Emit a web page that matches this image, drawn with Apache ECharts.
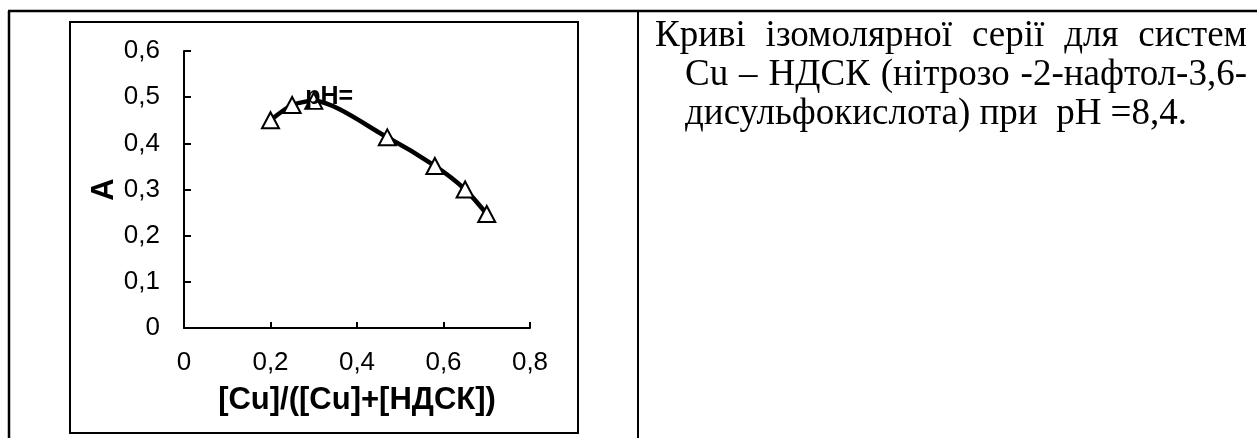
<!DOCTYPE html>
<html>
<head>
<meta charset="utf-8">
<script src="https://cdn.jsdelivr.net/npm/echarts@6/dist/echarts.min.js"></script>
<style>
  html, body { margin: 0; padding: 0; background: #fff; }
  #wrap { position: relative; width: 1257px; height: 438px; overflow: hidden; }
  #chart { position: absolute; left: 0; top: 0; width: 1257px; height: 438px; }
  #caption { position: absolute; left: 655px; top: 14px; width: 592px;
    font-family: "Liberation Serif", "Times New Roman", serif; font-size: 37px;
    line-height: 39px; color: #000; }
  #caption div { white-space: nowrap; }
  #caption .j { text-align: justify; text-align-last: justify; }
  #caption .ind { margin-left: 30px; }
</style>
</head>
<body>
<div id="wrap">
  <div id="chart"></div>
  <div id="caption"></div>
</div>
<script>
// ---- data ----
const xValues = [0.2, 0.25, 0.3, 0.47, 0.58, 0.65, 0.7];
const aValues = [0.45, 0.483, 0.492, 0.413, 0.351, 0.3, 0.247];
const xTicks = [0, 0.2, 0.4, 0.6, 0.8];
const yTicks = [0, 0.1, 0.2, 0.3, 0.4, 0.5, 0.6];
const xTitle = '[Cu]/([Cu]+[НДСК])';
const yTitle = 'A';
const pointLabel = 'pH=';
const pointLabelIndex = 2;
const captionLines = [
  'Криві ізомолярної серії для систем',
  'Cu – НДСК (нітрозо -2-нафтол-3,6-',
  'дисульфокислота) при\u00a0 pH =8,4.'
];

// caption text
const cap = document.getElementById('caption');
captionLines.forEach((t, i) => {
  const d = document.createElement('div');
  d.textContent = t;
  if (i < captionLines.length - 1) d.classList.add('j');
  if (i > 0) d.classList.add('ind');
  cap.appendChild(d);
});

const fmt = v => String(+v.toFixed(2)).replace('.', ',');
const sans = '"Liberation Sans", Arial, sans-serif';

const seriesData = xValues.map((x, i) => {
  const item = { value: [x, aValues[i]] };
  if (i === pointLabelIndex) {
    item.label = {
      show: true, formatter: pointLabel, position: [1, 5],
      align: 'left', verticalAlign: 'middle',
      fontFamily: sans, fontWeight: 'bold', fontSize: 25, color: '#000'
    };
  }
  return item;
});

const chart = echarts.init(document.getElementById('chart'), null, { renderer: 'canvas' });
chart.setOption({
  animation: false,
  backgroundColor: '#fff',
  grid: { left: 184, top: 51, width: 346, height: 277, containLabel: false },
  xAxis: {
    type: 'value',
    min: xTicks[0], max: xTicks[xTicks.length - 1],
    interval: xTicks[1] - xTicks[0],
    name: xTitle, nameLocation: 'middle', nameGap: 57,
    nameTextStyle: { fontFamily: sans, fontWeight: 'bold', fontSize: 31, color: '#000' },
    axisLine: { show: true, onZero: false, lineStyle: { color: '#000', width: 2 } },
    axisTick: { show: true, inside: true, length: 6, lineStyle: { color: '#000', width: 2 } },
    axisLabel: { formatter: fmt, margin: 22, fontFamily: sans, fontSize: 26, color: '#000' },
    splitLine: { show: false }
  },
  yAxis: {
    type: 'value',
    min: yTicks[0], max: yTicks[yTicks.length - 1],
    interval: yTicks[1] - yTicks[0],
    name: yTitle, nameLocation: 'middle', nameGap: 64, nameRotate: 90,
    nameTextStyle: { fontFamily: sans, fontWeight: 'bold', fontSize: 31, color: '#000' },
    axisLine: { show: true, onZero: false, lineStyle: { color: '#000', width: 2 } },
    axisTick: { show: true, inside: true, length: 7, lineStyle: { color: '#000', width: 2 } },
    axisLabel: { formatter: fmt, margin: 24, fontFamily: sans, fontSize: 26, color: '#000' },
    splitLine: { show: false }
  },
  series: [{
    type: 'line',
    data: seriesData,
    smooth: 0.25,
    symbol: 'triangle',
    symbolSize: [17, 16],
    lineStyle: { color: '#000', width: 4.5 },
    itemStyle: { color: '#fff', borderColor: '#000', borderWidth: 2 },
    z: 3
  }],
  graphic: [
    // table frame
    { type: 'line', shape: { x1: 8, y1: 11, x2: 1257, y2: 11 }, style: { stroke: '#000', lineWidth: 2.5 }, silent: true },
    { type: 'line', shape: { x1: 9, y1: 11, x2: 9, y2: 438 }, style: { stroke: '#000', lineWidth: 2.5 }, silent: true },
    { type: 'line', shape: { x1: 638, y1: 11, x2: 638, y2: 438 }, style: { stroke: '#000', lineWidth: 2 }, silent: true },
    // chart area border
    { type: 'rect', shape: { x: 70, y: 22, width: 508, height: 411 }, style: { fill: 'none', stroke: '#000', lineWidth: 2 }, silent: true, z: -1 }
  ]
});
</script>
</body>
</html>
